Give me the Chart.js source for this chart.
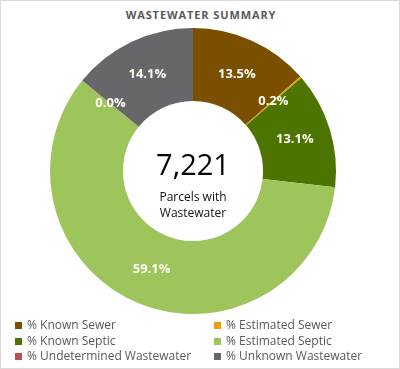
<!DOCTYPE html>
<html>
<head>
<meta charset="utf-8">
<script src="https://cdn.jsdelivr.net/npm/chart.js@4.4.1/dist/chart.umd.min.js"></script>
<style>
  html, body { margin: 0; padding: 0; background: #fff; }
  #wrap { position: relative; width: 400px; height: 369px; box-sizing: border-box; border: 1px solid #d9d9d9; overflow: hidden; font-family: "Open Sans", sans-serif; }
  #myChart { position: absolute; left: 0; top: 0; }
  #titulo { position: absolute; left: 0; top: 6px; width: 400px; text-align: center; font-size: 11px; font-weight: bold; color: #595959; letter-spacing: 0.9px; }
  #leyenda { position: absolute; left: 14px; top: 316px; width: 380px; font-size: 12px; color: #595959; }
  .item { position: absolute; white-space: nowrap; line-height: 15px; }
  .item span.cuadro { display: inline-block; width: 7px; height: 7px; margin-right: 5px; vertical-align: 0px; }
</style>
</head>
<body>
<div id="wrap">
  <div id="titulo">WASTEWATER SUMMARY</div>
  <canvas id="myChart" width="400" height="369"></canvas>
  <div id="leyenda"></div>
</div>
<script>
var etiquetas = ['% Known Sewer', '% Estimated Sewer', '% Known Septic', '% Estimated Septic', '% Undetermined Wastewater', '% Unknown Wastewater'];
var valores = [13.5, 0.2, 13.1, 59.1, 0.0, 14.1];
var colores = ['#7a4f00', '#e6a000', '#4d7300', '#9dc55b', '#c0504d', '#67676b'];
var totalParcelas = '7,221';
var textoCentro = ['Parcels with', 'Wastewater'];

// etiquetas de porcentaje sobre cada rebanada
var pluginEtiquetas = {
    id: 'etiquetas',
    afterDatasetsDraw: function(chart) {
        var ctx = chart.ctx;
        var meta = chart.getDatasetMeta(0);
        ctx.save();
        ctx.font = 'bold 13px "Open Sans"';
        ctx.fillStyle = '#fffdf5';
        ctx.textAlign = 'center';
        ctx.textBaseline = 'middle';
        for (var i = 0; i < meta.data.length; i++) {
            var p = meta.data[i].tooltipPosition();
            ctx.fillText(valores[i].toFixed(1) + '%', p.x, p.y);
        }
        // texto del centro
        var arco = meta.data[0];
        ctx.fillStyle = '#000000';
        ctx.font = '29px "Open Sans"';
        ctx.fillText(totalParcelas, arco.x, arco.y - 4);
        ctx.font = '12px "Open Sans"';
        ctx.fillStyle = '#111111';
        ctx.fillText(textoCentro[0], arco.x, arco.y + 27);
        ctx.fillText(textoCentro[1], arco.x, arco.y + 43);
        ctx.restore();
    }
};

var ctx = document.getElementById('myChart').getContext('2d');
var myChart = new Chart(ctx, {
    type: 'doughnut',
    data: {
        labels: etiquetas,
        datasets: [{
            data: valores,
            backgroundColor: colores,
            borderWidth: 0
        }]
    },
    options: {
        responsive: false,
        animation: false,
        cutout: '49%',
        layout: {
            padding: { top: 27, bottom: 56, left: 0, right: 16 }
        },
        plugins: {
            legend: { display: false },
            tooltip: { enabled: false }
        }
    },
    plugins: [pluginEtiquetas]
});

// leyenda en dos columnas
var leyenda = document.getElementById('leyenda');
for (var i = 0; i < etiquetas.length; i++) {
    var div = document.createElement('div');
    div.className = 'item';
    div.style.left = (i % 2 == 0 ? 0 : 199) + 'px';
    div.style.top = (Math.floor(i / 2) * 15.5) + 'px';
    div.innerHTML = '<span class="cuadro" style="background:' + colores[i] + '"></span>' + etiquetas[i];
    leyenda.appendChild(div);
}
</script>
</body>
</html>
